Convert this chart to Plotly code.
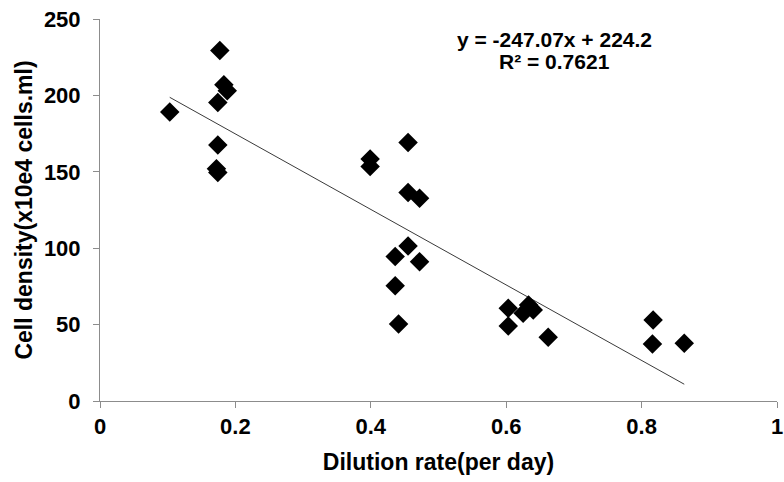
import plotly.graph_objects as go

# Dilution rate (per day) and measured cell density (x10e4 cells/ml)
dilution_rate = [0.103, 0.177, 0.183, 0.188, 0.174, 0.174, 0.172, 0.174,
                 0.399, 0.399, 0.455, 0.455, 0.472, 0.455, 0.436, 0.472,
                 0.436, 0.441, 0.603, 0.603, 0.633, 0.625, 0.640, 0.662,
                 0.817, 0.816, 0.863]
cell_density = [189.2, 229.4, 207.0, 203.0, 195.3, 167.6, 152.0, 149.5,
                158.3, 153.5, 169.2, 136.4, 132.7, 101.5, 94.5, 91.2,
                75.5, 50.4, 60.7, 49.1, 62.9, 57.4, 59.6, 41.7,
                53.0, 37.3, 37.8]

# Linear trendline
slope = -247.07
intercept = 224.2
r_squared = 0.7621

x_ticks = [0, 0.2, 0.4, 0.6, 0.8, 1]
x_tick_text = ["0", "0.2", "0.4", "0.6", "0.8", "1"]
y_ticks = [0, 50, 100, 150, 200, 250]

FONT = "Liberation Sans, Arial, sans-serif"
AXIS_GREY = "#8c8c8c"

trend_x = [min(dilution_rate), max(dilution_rate)]
trend_y = [slope * v + intercept for v in trend_x]

fig = go.Figure()
fig.add_trace(go.Scatter(
    x=trend_x, y=trend_y, mode="lines",
    line=dict(color="#3a3a3a", width=1), hoverinfo="skip",
))
fig.add_trace(go.Scatter(
    x=dilution_rate, y=cell_density, mode="markers",
    marker=dict(symbol="diamond", size=15, color="black", line=dict(width=0)),
))

eq_text = f"y = {slope}x + {intercept}"
r2_text = f"R² = {r_squared}"
fig.add_annotation(x=0.671, y=236.5, xref="x", yref="y", text=eq_text,
                   showarrow=False, font=dict(family=FONT, size=21, color="black", weight=700))
fig.add_annotation(x=0.671, y=222, xref="x", yref="y", text=r2_text,
                   showarrow=False, font=dict(family=FONT, size=21, color="black", weight=700))

fig.update_layout(
    width=784, height=482,
    margin=dict(l=100, r=7, t=19, b=81),
    paper_bgcolor="white", plot_bgcolor="white",
    showlegend=False,
    font=dict(family=FONT, color="black"),
    xaxis=dict(
        range=[0, 1], tickvals=x_ticks, ticktext=x_tick_text,
        showgrid=False, zeroline=False, automargin=False,
        showline=True, linecolor=AXIS_GREY, linewidth=1,
        ticks="outside", ticklen=6, tickcolor=AXIS_GREY,
        tickfont=dict(family=FONT, size=22, color="black", weight=700),
        title=dict(text="Dilution rate(per day)", standoff=15,
                   font=dict(family=FONT, size=23, color="black", weight=700)),
    ),
    yaxis=dict(
        range=[0, 250], tickvals=y_ticks,
        showgrid=False, zeroline=False, automargin=False,
        showline=True, linecolor=AXIS_GREY, linewidth=1,
        ticks="outside", ticklen=6, tickcolor=AXIS_GREY,
        ticklabelstandoff=8,
        tickfont=dict(family=FONT, size=22, color="black", weight=700),
        title=dict(text="Cell density(x10e4 cells.ml)", standoff=4,
                   font=dict(family=FONT, size=23, color="black", weight=700)),
    ),
)

fig.write_html("out.html")
